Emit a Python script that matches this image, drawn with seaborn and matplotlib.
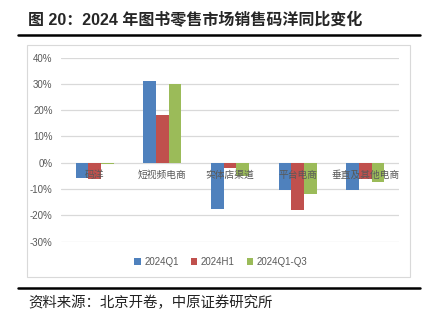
import matplotlib
matplotlib.use("Agg")
import matplotlib.pyplot as plt
from matplotlib.patches import Rectangle
from matplotlib.lines import Line2D
from matplotlib.ticker import FuncFormatter
import seaborn as sns
import pandas as pd

categories = ["码洋", "短视频电商", "实体店渠道", "平台电商", "垂直及其他电商"]
series_names = ["2024Q1", "2024H1", "2024Q1-Q3"]
q1 = [-5.7, 31.0, -17.7, -10.3, -10.5]
h1 = [-6.2, 18.2, -2.1, -17.9, -6.3]
q1q3 = [-0.6, 30.0, -5.1, -11.8, -7.5]
yticks = [-30, -20, -10, 0, 10, 20, 30, 40]
colors = ["#4F81BD", "#C0504D", "#9BBB59"]

rows = []
for name, vals in zip(series_names, [q1, h1, q1q3]):
    for c, v in zip(categories, vals):
        rows.append({"cat": c, "series": name, "val": v})
df = pd.DataFrame(rows)

sns.set_style("white")
plt.rcParams['font.family'] = ['Liberation Sans', 'Noto Sans CJK SC', 'DejaVu Sans']

W, H = 431, 329
fig = plt.figure(figsize=(W / 100, H / 100), dpi=100)

def fx(px):
    return px / W

def fy(py):
    return 1 - py / H

ax = fig.add_axes([fx(61), fy(241.5), fx(399) - fx(61), fy(57.5) - fy(241.5)])
sns.barplot(data=df, x="cat", y="val", hue="series", order=categories,
            hue_order=series_names, palette=colors, width=0.56, gap=0,
            errorbar=None, saturation=1, ax=ax, legend=False,
            linewidth=0, edgecolor="none")
for p in ax.patches:
    p.set_zorder(2)

ax.set_ylim(-30, 40)
ax.set_xlim(-0.5, 4.5)
ax.set_yticks(yticks)
ax.yaxis.set_major_formatter(FuncFormatter(lambda v, p: f"{int(round(v))}%"))
ax.grid(False)
ax.set_axisbelow(False)
for t in yticks:
    ax.axhline(t, color="#D9D9D9", linewidth=0.9, zorder=0)
for s in ["top", "right", "left"]:
    ax.spines[s].set_visible(False)
ax.spines["bottom"].set_position(("data", 0))
ax.spines["bottom"].set_visible(False)
ax.set_xlabel("")
ax.set_ylabel("")
ax.tick_params(axis="y", length=0, pad=6, labelsize=7, labelcolor="#595959")
ax.tick_params(axis="x", length=0, pad=5, labelsize=7, labelcolor="#595959")
for lab in ax.get_xticklabels():
    lab.set_family(['Noto Sans CJK SC', 'DejaVu Sans'])

handles = [Rectangle((0, 0), 1, 1, facecolor=c, edgecolor="none") for c in colors]
fig.legend(handles, series_names, loc="center", bbox_to_anchor=(fx(221), fy(262)),
           ncol=3, frameon=False, fontsize=7, labelcolor="#595959",
           handlelength=0.65, handleheight=0.65, handletextpad=0.4,
           columnspacing=1.2, borderaxespad=0)

# chart border box
fig.patches.append(Rectangle((fx(27), fy(277)), fx(410) - fx(27), fy(45) - fy(277),
                             transform=fig.transFigure, fill=False,
                             edgecolor="#D9D9D9", linewidth=0.8))
# thick rules
for py in (35, 288):
    fig.lines.append(Line2D([fx(18), fx(420)], [fy(py), fy(py)],
                            transform=fig.transFigure, color="black", linewidth=1.8))

fig.text(fx(28), fy(20), "图 20：2024 年图书零售市场销售码洋同比变化",
         fontsize=11.5, fontweight="bold", va="center", ha="left",
         family=['Liberation Sans', 'Noto Sans CJK SC'])
fig.text(fx(28), fy(303), "资料来源：北京开卷，中原证券研究所",
         fontsize=10.4, va="center", ha="left", color="#222222",
         family=['Noto Sans CJK SC', 'DejaVu Sans'])

fig.savefig("out.png", dpi=100)
